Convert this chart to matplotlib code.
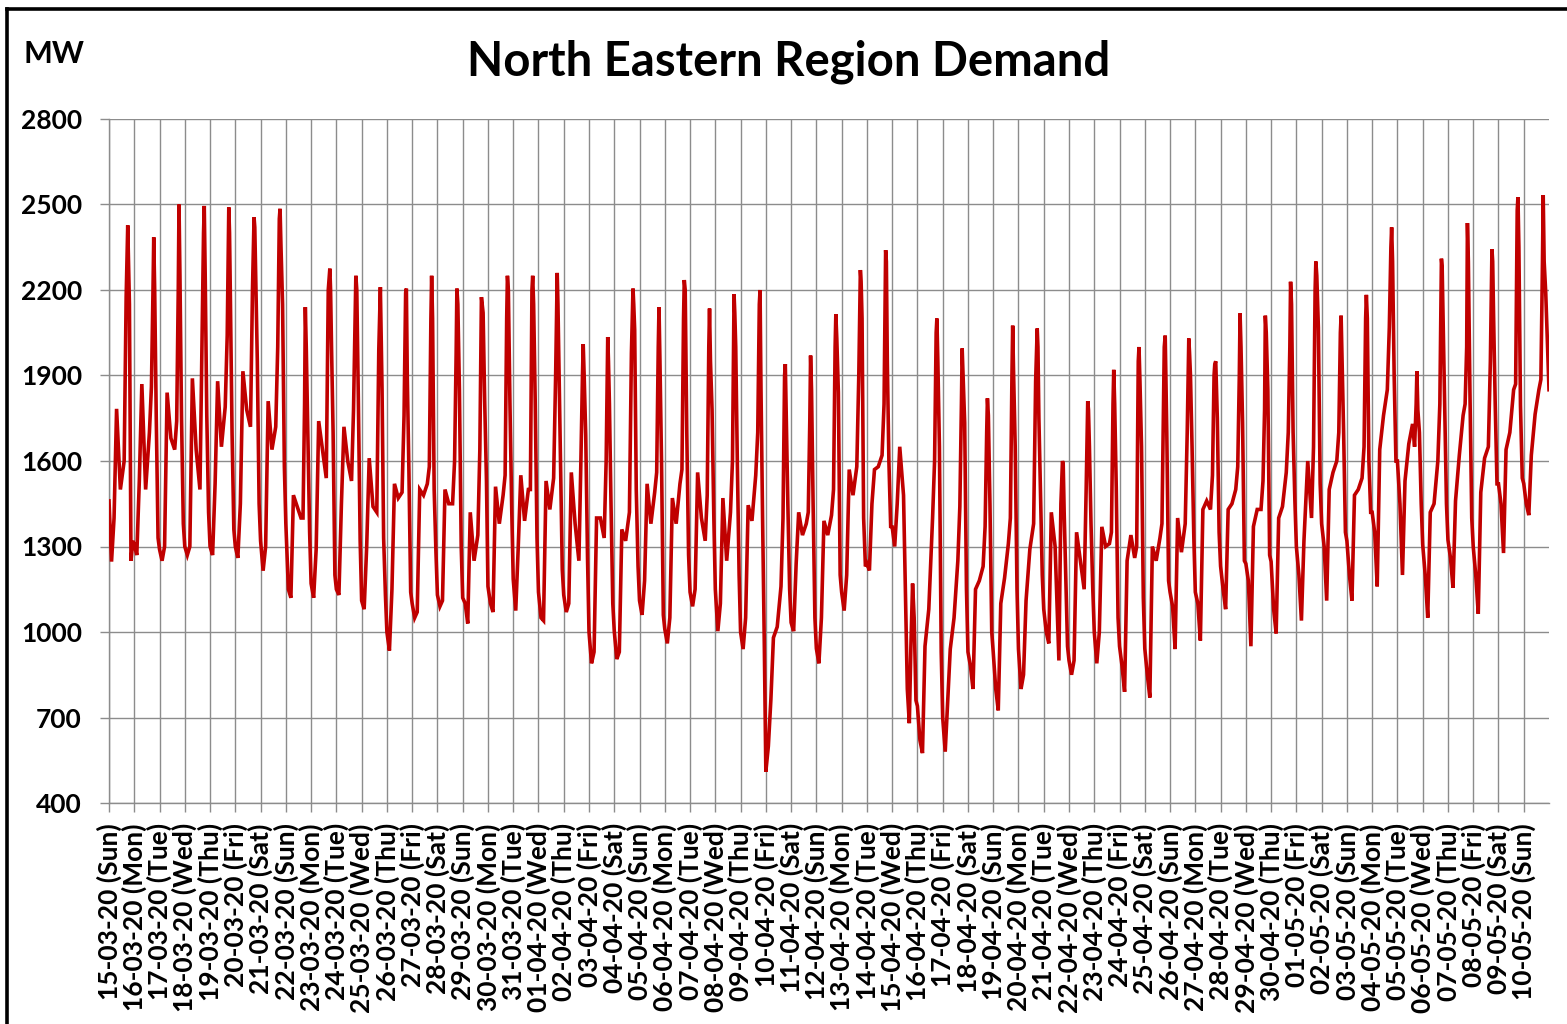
import matplotlib
matplotlib.use("Agg")
import matplotlib.pyplot as plt
from matplotlib.lines import Line2D

# ---------------- data ----------------
# hours of the day at which each daily series was read
sample_hours = [0.0, 2.4, 4.8, 7.2, 10.8, 14.4, 16.3, 17.8, 18.5, 19.4, 20.9, 22.6]

day_labels = [
    "15-03-20 (Sun)", "16-03-20 (Mon)", "17-03-20 (Tue)", "18-03-20 (Wed)", "19-03-20 (Thu)",
    "20-03-20 (Fri)", "21-03-20 (Sat)", "22-03-20 (Sun)", "23-03-20 (Mon)", "24-03-20 (Tue)",
    "25-03-20 (Wed)", "26-03-20 (Thu)", "27-03-20 (Fri)", "28-03-20 (Sat)", "29-03-20 (Sun)",
    "30-03-20 (Mon)", "31-03-20 (Tue)", "01-04-20 (Wed)", "02-04-20 (Thu)", "03-04-20 (Fri)",
    "04-04-20 (Sat)", "05-04-20 (Sun)", "06-04-20 (Mon)", "07-04-20 (Tue)", "08-04-20 (Wed)",
    "09-04-20 (Thu)", "10-04-20 (Fri)", "11-04-20 (Sat)", "12-04-20 (Sun)", "13-04-20 (Mon)",
    "14-04-20 (Tue)", "15-04-20 (Wed)", "16-04-20 (Thu)", "17-04-20 (Fri)", "18-04-20 (Sat)",
    "19-04-20 (Sun)", "20-04-20 (Mon)", "21-04-20 (Tue)", "22-04-20 (Wed)", "23-04-20 (Thu)",
    "24-04-20 (Fri)", "25-04-20 (Sat)", "26-04-20 (Sun)", "27-04-20 (Mon)", "28-04-20 (Tue)",
    "29-04-20 (Wed)", "30-04-20 (Thu)", "01-05-20 (Fri)", "02-05-20 (Sat)", "03-05-20 (Sun)",
    "04-05-20 (Mon)", "05-05-20 (Tue)", "06-05-20 (Wed)", "07-05-20 (Thu)", "08-05-20 (Fri)",
    "09-05-20 (Sat)", "10-05-20 (Sun)",
]

y_ticks = [400, 700, 1000, 1300, 1600, 1900, 2200, 2500, 2800]

# demand (MW) per day at sample_hours
d15_03 = [1460, 1247, 1400, 1783, 1500, 1600, 2176, 2427, 2300, 2150, 1250, 1320]
d16_03 = [1307, 1270, 1530, 1870, 1500, 1700, 1860, 2200, 2385, 2200, 1750, 1330]
d17_03 = [1290, 1250, 1300, 1840, 1680, 1640, 1740, 2200, 2500, 2250, 1750, 1380]
d18_03 = [1300, 1270, 1300, 1890, 1640, 1500, 2000, 2400, 2495, 2250, 1760, 1420]
d19_03 = [1300, 1270, 1520, 1880, 1650, 1790, 2040, 2490, 2400, 2150, 1700, 1360]
d20_03 = [1300, 1260, 1450, 1915, 1780, 1720, 2200, 2455, 2420, 2250, 1950, 1450]
d21_03 = [1320, 1215, 1300, 1810, 1640, 1720, 2000, 2450, 2485, 2350, 2150, 1580]
d22_03 = [1380, 1150, 1120, 1480, 1440, 1400, 1400, 1800, 2140, 2000, 1700, 1350]
d23_03 = [1170, 1120, 1290, 1740, 1640, 1540, 2200, 2275, 2200, 2000, 1700, 1200]
d24_03 = [1150, 1130, 1450, 1720, 1600, 1530, 1780, 2100, 2250, 2200, 1810, 1320]
d25_03 = [1110, 1080, 1300, 1610, 1440, 1420, 1990, 2210, 2050, 1850, 1330, 1130]
d26_03 = [1000, 935, 1150, 1520, 1470, 1490, 1760, 2190, 2205, 1890, 1570, 1140]
d27_03 = [1100, 1050, 1070, 1500, 1480, 1520, 1580, 2100, 2250, 2100, 1500, 1280]
d28_03 = [1130, 1090, 1110, 1500, 1450, 1450, 1600, 1980, 2205, 2150, 1850, 1300]
d29_03 = [1120, 1100, 1030, 1420, 1250, 1340, 1640, 2175, 2150, 2120, 1810, 1530]
d30_03 = [1160, 1100, 1070, 1510, 1380, 1480, 1550, 2100, 2250, 2200, 1800, 1430]
d31_03 = [1186, 1075, 1300, 1550, 1390, 1500, 1500, 2200, 2250, 2150, 1810, 1330]
d01_04 = [1140, 1050, 1040, 1530, 1430, 1540, 1900, 2260, 2150, 1950, 1600, 1220]
d02_04 = [1130, 1070, 1100, 1560, 1380, 1250, 1600, 1900, 2010, 1900, 1690, 1260]
d03_04 = [1000, 890, 930, 1400, 1400, 1330, 1600, 2035, 1950, 1800, 1450, 1100]
d04_04 = [1003, 905, 930, 1360, 1320, 1420, 1980, 2205, 2150, 2060, 1500, 1230]
d05_04 = [1110, 1060, 1180, 1520, 1380, 1490, 1560, 2000, 2140, 1950, 1600, 1060]
d06_04 = [1010, 960, 1050, 1470, 1380, 1520, 1570, 2100, 2235, 2200, 1700, 1270]
d07_04 = [1140, 1090, 1150, 1560, 1400, 1320, 1480, 2000, 2135, 1950, 1780, 1400]
d08_04 = [1150, 1003, 1100, 1470, 1250, 1420, 1600, 2185, 2120, 2000, 1600, 1200]
d09_04 = [1000, 940, 1050, 1445, 1390, 1550, 1700, 2150, 2200, 1850, 1400, 940]
d10_04 = [510, 600, 764, 980, 1018, 1160, 1400, 1900, 1940, 1760, 1450, 1150]
d11_04 = [1033, 1003, 1240, 1420, 1340, 1380, 1420, 1750, 1970, 1850, 1450, 1050]
d12_04 = [942, 890, 1050, 1390, 1340, 1410, 1500, 2000, 2115, 2030, 1841, 1200]
d13_04 = [1140, 1075, 1200, 1570, 1480, 1580, 1900, 2270, 2230, 2100, 1400, 1230]
d14_04 = [1240, 1216, 1450, 1570, 1580, 1620, 1800, 2340, 2300, 1950, 1600, 1370]
d15_04 = [1369, 1300, 1450, 1650, 1480, 800, 680, 950, 1050, 1170, 1050, 760]
d16_04 = [740, 620, 575, 950, 1080, 1400, 1600, 2050, 2100, 1950, 1650, 930]
d17_04 = [700, 580, 760, 940, 1050, 1250, 1440, 1800, 1995, 1900, 1734, 1150]
d18_04 = [930, 880, 800, 1150, 1180, 1230, 1370, 1700, 1820, 1760, 1450, 1000]
d19_04 = [930, 800, 725, 1100, 1190, 1310, 1400, 1900, 2075, 1900, 1650, 1150]
d20_04 = [940, 800, 850, 1110, 1290, 1380, 1880, 2065, 2000, 1750, 1500, 1200]
d21_04 = [1080, 1000, 960, 1420, 1300, 900, 1450, 1600, 1590, 1420, 1200, 950]
d22_04 = [900, 850, 900, 1350, 1250, 1150, 1500, 1810, 1780, 1650, 1380, 1150]
d23_04 = [1000, 890, 1000, 1369, 1300, 1310, 1350, 1800, 1920, 1800, 1506, 1050]
d24_04 = [950, 880, 790, 1250, 1340, 1260, 1300, 1950, 2000, 1880, 1650, 1120]
d25_04 = [942, 850, 770, 1300, 1250, 1330, 1380, 1800, 2000, 2040, 1700, 1180]
d26_04 = [1140, 1090, 940, 1400, 1280, 1380, 1700, 2030, 1980, 1900, 1650, 1330]
d27_04 = [1140, 1100, 970, 1430, 1460, 1430, 1550, 1900, 1940, 1950, 1750, 1350]
d28_04 = [1231, 1150, 1080, 1430, 1450, 1500, 1580, 1900, 2118, 2000, 1734, 1250]
d29_04 = [1240, 1180, 950, 1370, 1430, 1430, 1530, 1780, 2110, 2050, 1850, 1270]
d30_04 = [1247, 1080, 995, 1400, 1440, 1560, 1700, 2000, 2229, 2150, 1700, 1460]
d01_05 = [1300, 1200, 1040, 1320, 1600, 1400, 1650, 2200, 2300, 2250, 2069, 1521]
d02_05 = [1380, 1300, 1110, 1500, 1560, 1600, 1700, 2050, 2110, 1950, 1700, 1350]
d03_05 = [1320, 1200, 1110, 1480, 1500, 1540, 1650, 2100, 2183, 2100, 1600, 1420]
d04_05 = [1420, 1350, 1160, 1640, 1760, 1850, 2069, 2350, 2420, 2300, 1900, 1600]
d05_05 = [1600, 1450, 1200, 1530, 1660, 1730, 1650, 1800, 1915, 1780, 1700, 1450]
d06_05 = [1307, 1200, 1050, 1420, 1450, 1600, 1800, 2310, 2280, 2100, 1795, 1450]
d07_05 = [1323, 1260, 1155, 1460, 1620, 1760, 1800, 2000, 2435, 2300, 1841, 1400]
d08_05 = [1300, 1200, 1064, 1490, 1610, 1650, 1950, 2343, 2300, 2100, 1800, 1520]
d09_05 = [1520, 1450, 1277, 1640, 1700, 1850, 1870, 2480, 2526, 2350, 1795, 1540]
d10_05 = [1521, 1450, 1410, 1620, 1764, 1850, 1886, 2300, 2533, 2300, 2190, 2000]
final_value = 1850  # last reading at the end of 10-05

daily_series = [
    d15_03, d16_03, d17_03, d18_03, d19_03, d20_03, d21_03, d22_03, d23_03, d24_03,
    d25_03, d26_03, d27_03, d28_03, d29_03, d30_03, d31_03, d01_04, d02_04, d03_04,
    d04_04, d05_04, d06_04, d07_04, d08_04, d09_04, d10_04, d11_04, d12_04, d13_04,
    d14_04, d15_04, d16_04, d17_04, d18_04, d19_04, d20_04, d21_04, d22_04, d23_04,
    d24_04, d25_04, d26_04, d27_04, d28_04, d29_04, d30_04, d01_05, d02_05, d03_05,
    d04_05, d05_05, d06_05, d07_05, d08_05, d09_05, d10_05,
]

t = []
mw = []
for day_index, values in enumerate(daily_series):
    for hour, value in zip(sample_hours, values):
        t.append(day_index + hour / 24.0)
        mw.append(value)
t.append(len(daily_series))
mw.append(final_value)

# ---------------- figure ----------------
FONT = "Lato"
W, H = 1567, 1024
fig = plt.figure(figsize=(W / 100, H / 100), dpi=100)
fig.patch.set_facecolor("white")

ax = fig.add_axes([109 / W, 1 - 803 / H, (1549 - 109) / W, (803 - 119) / H])
grid_c = "#8c8c8c"

ax.plot(t, mw, color="#C00000", lw=2.6, solid_joinstyle="miter", zorder=3)

ax.set_xlim(0, len(daily_series))
ax.set_ylim(400, 2800)
ax.set_xticks(range(len(day_labels)))
ax.set_xticklabels(day_labels, rotation=90, fontsize=19, fontweight="bold", family=FONT)
ax.set_yticks(y_ticks)
ax.set_yticklabels([str(v) for v in y_ticks], fontsize=19, fontweight="bold", family=FONT)

ax.grid(True, color=grid_c, lw=1.0, zorder=0)
ax.tick_params(axis="x", length=6.5, width=1.0, color=grid_c, pad=8)
ax.tick_params(axis="y", length=6.5, width=1.0, color=grid_c, pad=13)
for side in ["top", "right"]:
    ax.spines[side].set_visible(False)
for side in ["left", "bottom"]:
    ax.spines[side].set_color(grid_c)
    ax.spines[side].set_linewidth(1.0)

fig.text(789 / W, 1 - 75 / H, "North Eastern Region Demand", ha="center", va="baseline",
         fontsize=34, fontweight="bold", family=FONT)
fig.text(24 / W, 1 - 63 / H, "MW", ha="left", va="baseline",
         fontsize=22, fontweight="bold", family=FONT)

# outer chart border (left and top visible)
fig.add_artist(Line2D([7 / W, 7 / W], [0, 1 - 9 / H], transform=fig.transFigure,
                      color="black", lw=2.6, solid_capstyle="projecting"))
fig.add_artist(Line2D([7 / W, 1], [1 - 9 / H, 1 - 9 / H], transform=fig.transFigure,
                      color="black", lw=2.6, solid_capstyle="projecting"))

fig.savefig("out.png", dpi=100)
